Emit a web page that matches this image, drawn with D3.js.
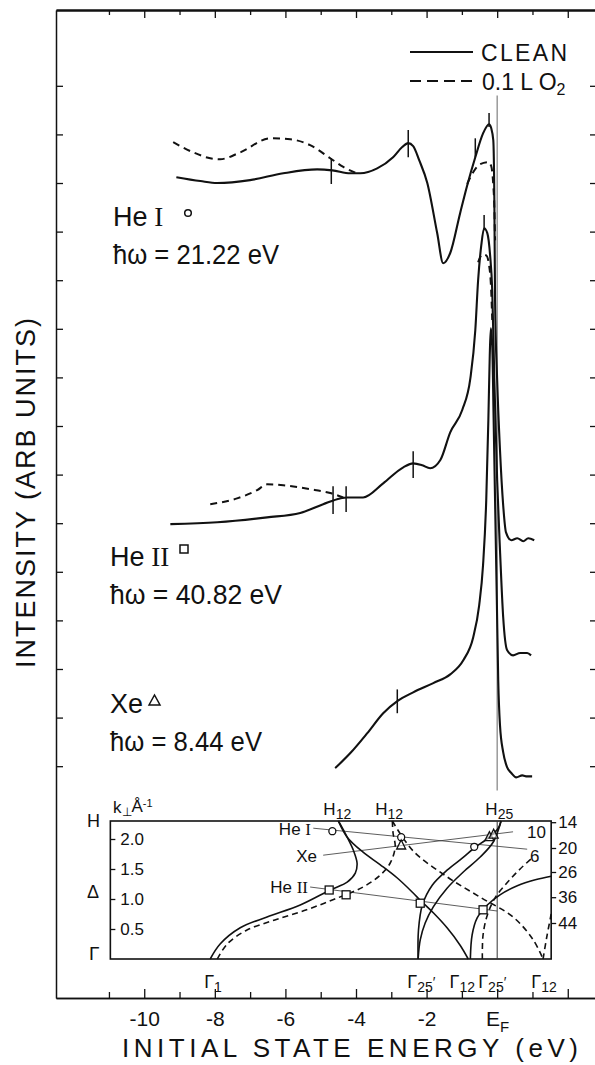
<!DOCTYPE html>
<html><head><meta charset="utf-8">
<script src="https://cdn.jsdelivr.net/npm/d3@7"></script>
<style>
body{margin:0;background:#fff}
svg{display:block}
text{font-family:"Liberation Sans",Arial,sans-serif;fill:#111}
</style></head>
<body><svg id="c" width="595" height="1065"></svg>
<script>
// ---------- DATA (energy E in eV, intensity in arb. units) ----------
const heI_clean = [[-9.09,12.12],[-8.41,12.04],[-7.93,12.00],[-7.00,12.06],[-6.06,12.20],[-5.10,12.28],[-4.67,12.26],[-4.16,12.20],[-3.88,12.20],[-3.40,12.30],[-2.95,12.53],[-2.69,12.74],[-2.52,12.82],[-2.38,12.76],[-2.21,12.47],[-1.98,12.00],[-1.70,10.97],[-1.53,10.35],[-1.33,10.56],[-1.05,11.38],[-0.85,11.95],[-0.62,12.53],[-0.40,13.02],[-0.23,13.21],[-0.17,13.13],[-0.11,12.88],[-0.08,11.65],[-0.06,9.59],[0.00,7.94],[0.08,6.50],[0.17,5.37],[0.25,4.81],[0.40,4.65],[0.57,4.69],[0.74,4.63],[0.88,4.69],[1.05,4.65]];
const heI_o2_low = [[-9.18,12.84],[-8.61,12.63],[-8.13,12.51],[-7.85,12.49],[-7.28,12.63],[-6.43,12.92],[-5.86,12.90],[-5.30,12.78],[-4.73,12.51],[-4.36,12.33],[-3.97,12.20]];
const heI_o2_peak = [[-0.85,11.98],[-0.68,12.22],[-0.48,12.39],[-0.25,12.43],[-0.17,12.35],[-0.11,11.95],[-0.08,11.50],[-0.06,10.82]];
const heII_clean = [[-9.26,4.98],[-7.93,5.02],[-6.52,5.12],[-5.58,5.21],[-4.93,5.39],[-4.45,5.51],[-4.25,5.53],[-3.80,5.53],[-3.23,5.82],[-2.66,6.15],[-2.38,6.23],[-2.12,6.19],[-1.90,6.13],[-1.61,6.30],[-1.33,6.87],[-0.99,7.33],[-0.76,7.98],[-0.62,8.97],[-0.54,10.00],[-0.45,10.72],[-0.37,11.07],[-0.28,10.97],[-0.20,10.51],[-0.14,9.79],[-0.08,7.94],[0.00,5.88],[0.08,4.44],[0.17,3.07],[0.28,2.39],[0.45,2.28],[0.65,2.33],[0.85,2.33],[0.96,2.28]];
const heII_o2_low = [[-8.13,5.39],[-7.37,5.51],[-6.80,5.68],[-6.52,5.80],[-6.06,5.78],[-5.30,5.70],[-4.73,5.62],[-4.36,5.53]];
const heII_o2_peak = [[-0.54,10.37],[-0.42,10.53],[-0.31,10.51],[-0.23,10.31],[-0.17,9.79],[-0.14,9.18]];
const xe_clean = [[-4.59,-0.04],[-4.16,0.27],[-3.68,0.68],[-3.23,1.09],[-2.83,1.34],[-2.38,1.52],[-1.81,1.71],[-1.33,1.89],[-0.96,2.18],[-0.68,2.65],[-0.51,3.31],[-0.40,4.14],[-0.31,5.47],[-0.25,7.12],[-0.21,8.46],[-0.18,9.01],[-0.14,8.66],[-0.10,7.12],[-0.06,5.47],[-0.01,3.42],[0.03,1.77],[0.08,0.84],[0.17,0.29],[0.28,-0.02],[0.40,-0.14],[0.54,-0.23],[0.71,-0.19],[0.85,-0.21],[0.99,-0.21]];
// short vertical markers: [E, I low, I high]
const markTicks = [[-4.70,11.98,12.51],[-2.52,12.53,13.09],[-0.62,12.53,12.92],[-0.23,13.15,13.44],
  [-4.65,5.19,5.76],[-4.28,5.23,5.76],[-2.38,5.93,6.48],[-0.37,11.03,11.34],[-2.83,1.09,1.58]];
const efLine = [-0.5, 13.8];
// axis ticks
const energyMajor = [-10,-8,-6,-4,-2,0,2];
const energyMinor = [-11,-9,-7,-5,-3,-1,1];
const energyLabels = {"-10":"-10","-8":"-8","-6":"-6","-4":"-4","-2":"-2","0":"E"};
const intensityTicks = [0,1,2,3,4,5,6,7,8,9,10,11,12,13,14];

// ---------- inset: band structure E(k) ----------
const insetE = [-10.96, 1.53];
const kTicks = [0.5,1.0,1.5,2.0];
const hvK = [2.28,1.85,1.45,1.03,0.60];
const hvLabels = ["14","20","26","36","44"];
const bandsSolid = [
 [[-8.13,0],[-7.85,0.25],[-7.28,0.52],[-6.52,0.70],[-5.58,0.90],[-4.73,1.15],[-4.25,1.28],[-4.02,1.43],[-3.97,1.60],[-4.08,1.82],[-4.25,2.03],[-4.45,2.25],[-4.50,2.30]],
 [[-4.50,2.30],[-4.25,2.03],[-3.80,1.78],[-3.31,1.57],[-2.83,1.35],[-2.38,1.10],[-2.18,0.98],[-1.81,0.77],[-1.42,0.52],[-1.05,0.23],[-0.82,0]],
 [[-2.24,0],[-2.18,0.32],[-2.04,0.60],[-1.81,0.87],[-1.42,1.18],[-0.96,1.45],[-0.48,1.70],[-0.11,1.95],[0.11,2.30]],
 [[-2.24,0],[-2.23,0.48],[-2.12,0.90],[-1.84,1.23],[-1.42,1.48],[-0.99,1.68],[-0.65,1.85],[-0.25,2.02],[0.03,2.18],[0.11,2.30]],
 [[-0.76,0],[-0.71,0.40],[-0.57,0.68],[-0.28,0.90],[0.08,1.07],[0.57,1.22],[1.08,1.32],[1.53,1.38]]
];
const bandsDashed = [
 [[-7.93,0],[-7.65,0.25],[-7.10,0.48],[-6.30,0.65],[-5.40,0.82],[-4.60,1.00],[-3.80,1.20],[-3.31,1.40],[-3.03,1.60],[-2.89,1.87],[-2.95,2.10],[-2.97,2.30]],
 [[-2.97,2.30],[-2.38,1.80],[-1.42,1.37],[-0.48,1.03],[0.45,0.70],[1.02,0.32],[1.30,0]],
 [[-0.42,0],[-0.40,0.40],[-0.28,0.73],[-0.06,1.02],[0.28,1.27],[0.65,1.50],[1.02,1.70]],
 [[1.30,0],[1.40,0.35],[1.53,0.75]]
];
const heI_pts = [[-4.67,2.13],[-2.72,2.03],[-0.65,1.87]];
const xe_pts = [[-2.72,1.90],[-0.22,2.04],[-0.10,2.08]];
const heII_pts = [[-4.76,1.15],[-4.28,1.07],[-2.18,0.93],[-0.40,0.82]];
const heI_ray = [[-5.21,2.18],[0.85,1.83]];
const xe_ray = [[-4.93,1.73],[0.45,2.12]];
const heII_ray = [[-5.30,1.20],[0.00,0.80]];
const topLabels = [["H","12",-4.53],["H","12",-3.06],["H","25",0.06]];
const bottomLabels = [["Γ","1",-8.05,""],["Γ","25",-2.15,"′"],["Γ","12",-0.99,""],["Γ","25",-0.14,"′"],["Γ","12",1.33,""]];

// ---------- SCALES ----------
const svg = d3.select("#c");
const x = d3.scaleLinear().domain([-12.5, 2.8]).range([56, 596]);
const y = d3.scaleLinear().domain([-4.77, 15.56]).range([998, 10]);
const kS = d3.scaleLinear().domain([0, 2.3]).range([959, 821]);
const serif = '"Liberation Serif","DejaVu Serif",serif';

function styleAxis(g, w){
  g.selectAll(".domain").attr("stroke","#111").attr("stroke-width",w||1.5);
  g.selectAll(".tick line").attr("stroke","#111").attr("stroke-width",1.3);
  g.attr("font-family",null).attr("font-size",null);
}

// bottom axis
const gBmin = svg.append("g").attr("transform","translate(0,998)")
  .call(d3.axisBottom(x).tickValues(energyMinor).tickSize(-6).tickSizeOuter(0).tickFormat(""));
styleAxis(gBmin);
const gB = svg.append("g").attr("transform","translate(0,998)")
  .call(d3.axisBottom(x).tickValues(energyMajor).tickSize(-9).tickSizeOuter(0).tickPadding(13)
     .tickFormat(d => energyLabels[String(d)] || ""));
styleAxis(gB);
gB.selectAll(".tick text").attr("font-size","21px").attr("fill","#111")
  .each(function(d){ if(d===0){ d3.select(this).append("tspan").attr("dy","0.4em").attr("font-size","15px").text("F"); }});
// top axis
const gTmin = svg.append("g").attr("transform","translate(0,10)")
  .call(d3.axisBottom(x).tickValues(energyMinor).tickSize(5).tickSizeOuter(0).tickFormat(""));
styleAxis(gTmin,2);
const gT = svg.append("g").attr("transform","translate(0,10)")
  .call(d3.axisBottom(x).tickValues(energyMajor).tickSize(8).tickSizeOuter(0).tickFormat(""));
styleAxis(gT,2);
// left & right axes
const gL = svg.append("g").attr("transform","translate(56,0)")
  .call(d3.axisRight(y).tickValues(intensityTicks).tickSize(7).tickSizeOuter(0).tickFormat(""));
styleAxis(gL);
const gR = svg.append("g").attr("transform","translate(597,0)")
  .call(d3.axisLeft(y).tickValues(intensityTicks).tickSize(7).tickSizeOuter(0).tickFormat(""));
styleAxis(gR);

// axis titles
svg.append("text").attr("x",122).attr("y",1057).attr("font-size","26px")
  .attr("font-family",'"DejaVu Sans",sans-serif').attr("font-weight",300)
  .attr("textLength",456).attr("lengthAdjust","spacing").text("INITIAL STATE ENERGY (eV)");
svg.append("text").attr("transform","translate(35,668) rotate(-90)").attr("font-size","27px")
  .attr("textLength",350).attr("lengthAdjust","spacing").text("INTENSITY (ARB UNITS)");

// E_F reference line
svg.append("line").attr("x1",x(0)).attr("x2",x(0)).attr("y1",y(efLine[0])).attr("y2",y(efLine[1]))
  .attr("stroke","#8a8a8a").attr("stroke-width",1.3);

// spectra
const line = d3.line().x(d=>x(d[0])).y(d=>y(d[1])).curve(d3.curveMonotoneX);
[heI_clean, heII_clean, xe_clean].forEach(s =>
  svg.append("path").attr("d",line(s)).attr("fill","none").attr("stroke","#111").attr("stroke-width",2.1));
[heI_o2_low, heI_o2_peak, heII_o2_low, heII_o2_peak].forEach(s =>
  svg.append("path").attr("d",line(s)).attr("fill","none").attr("stroke","#111").attr("stroke-width",2)
    .attr("stroke-dasharray","7,5"));
svg.selectAll("line.mk").data(markTicks).enter().append("line").attr("class","mk")
  .attr("x1",d=>x(d[0])).attr("x2",d=>x(d[0])).attr("y1",d=>y(d[1])).attr("y2",d=>y(d[2]))
  .attr("stroke","#111").attr("stroke-width",1.5);

// legend
svg.append("line").attr("x1",410).attr("x2",473).attr("y1",52).attr("y2",52).attr("stroke","#111").attr("stroke-width",2);
svg.append("text").attr("x",481).attr("y",61).attr("font-size","23px").attr("textLength",86).attr("lengthAdjust","spacing").text("CLEAN");
svg.append("line").attr("x1",410).attr("x2",472).attr("y1",81).attr("y2",81).attr("stroke","#111").attr("stroke-width",2).attr("stroke-dasharray","11,6");
const lt = svg.append("text").attr("x",482).attr("y",90).attr("font-size","23px");
lt.append("tspan").text("0.1 L O");
lt.append("tspan").attr("dy","0.3em").attr("font-size","16px").text("2");

// spectrum labels
function specLabel(x0, yb, name, roman, w2, line2){
  const t = svg.append("text").attr("x",x0).attr("y",yb).attr("font-size","27px");
  t.append("tspan").text(name);
  if(roman) t.append("tspan").attr("font-family",serif).text(" "+roman);
  svg.append("text").attr("x",x0).attr("y",yb+38).attr("font-size","28px")
    .attr("textLength",w2).attr("lengthAdjust","spacingAndGlyphs").text(line2);
}
specLabel(113,226,"He","I",166,"ħω = 21.22 eV");
svg.append("circle").attr("cx",188).attr("cy",213).attr("r",3.3).attr("fill","none").attr("stroke","#111").attr("stroke-width",1.5);
specLabel(110,566,"He","II",172,"ħω = 40.82 eV");
svg.append("rect").attr("x",180).attr("y",545).attr("width",8).attr("height",8).attr("fill","none").attr("stroke","#111").attr("stroke-width",1.5);
specLabel(110,713,"Xe","",152,"ħω = 8.44 eV");
svg.append("path").attr("d","M149,705 L154.5,695 L160,705 Z").attr("fill","none").attr("stroke","#111").attr("stroke-width",1.5);

// ---------- INSET ----------
const gi = svg.append("g");
const bx0 = x(insetE[0]), bx1 = x(insetE[1]);
gi.append("rect").attr("x",bx0).attr("y",kS(2.3)).attr("width",bx1-bx0).attr("height",kS(0)-kS(2.3))
  .attr("fill","#fff").attr("stroke","#111").attr("stroke-width",1.6);
const gIL = gi.append("g").attr("transform",`translate(${bx0},0)`)
  .call(d3.axisRight(kS).tickValues(kTicks).tickSize(5).tickSizeOuter(0).tickPadding(5).tickFormat(d3.format(".1f")));
styleAxis(gIL);
gIL.select(".domain").remove();
gIL.selectAll(".tick text").attr("font-size","17px").attr("fill","#111");
const gIR = gi.append("g").attr("transform",`translate(${bx1},0)`)
  .call(d3.axisRight(kS).tickValues(hvK).tickSize(5).tickSizeOuter(0).tickPadding(2).tickFormat((d,i)=>hvLabels[i]));
styleAxis(gIR);
gIR.select(".domain").remove();
gIR.selectAll(".tick text").attr("font-size","17px").attr("fill","#111");
gi.append("line").attr("x1",x(0)).attr("x2",x(0)).attr("y1",kS(0)).attr("y2",kS(2.3)).attr("stroke","#333").attr("stroke-width",1);

const bl = d3.line().x(d=>x(d[0])).y(d=>kS(d[1])).curve(d3.curveCatmullRom.alpha(0.5));
const sl = d3.line().x(d=>x(d[0])).y(d=>kS(d[1]));
[heI_ray, xe_ray, heII_ray].forEach(r =>
  gi.append("path").attr("d",sl(r)).attr("fill","none").attr("stroke","#333").attr("stroke-width",0.8));
bandsSolid.forEach(b => gi.append("path").attr("d",bl(b)).attr("fill","none").attr("stroke","#111").attr("stroke-width",1.6));
bandsDashed.forEach(b => gi.append("path").attr("d",bl(b)).attr("fill","none").attr("stroke","#111").attr("stroke-width",1.6).attr("stroke-dasharray","6,4"));
gi.selectAll("circle.p").data(heI_pts).enter().append("circle").attr("class","p")
  .attr("cx",d=>x(d[0])).attr("cy",d=>kS(d[1])).attr("r",3.5).attr("fill","#fff").attr("stroke","#111").attr("stroke-width",1.3);
gi.selectAll("path.tri").data(xe_pts).enter().append("path").attr("class","tri")
  .attr("d",d=>{const cx=x(d[0]),cy=kS(d[1]);return `M${cx-4.5},${cy+4} L${cx},${cy-5} L${cx+4.5},${cy+4} Z`;})
  .attr("fill","#fff").attr("fill-opacity",0.6).attr("stroke","#111").attr("stroke-width",1.3);
gi.selectAll("rect.sq").data(heII_pts).enter().append("rect").attr("class","sq")
  .attr("x",d=>x(d[0])-4).attr("y",d=>kS(d[1])-4).attr("width",8).attr("height",8)
  .attr("fill","#fff").attr("stroke","#111").attr("stroke-width",1.3);

// inset labels
function lbl(xx,yy,txt,anchor,fs,fam){
  return gi.append("text").attr("x",xx).attr("y",yy).attr("font-size",(fs||17)+"px")
    .attr("text-anchor",anchor||"start").attr("font-family",fam||null).text(txt);
}
const t1 = lbl(311,835,"He ","end"); t1.append("tspan").attr("font-family",serif).text("I");
lbl(317,862,"Xe","end");
const t3 = lbl(308,893,"He ","end"); t3.append("tspan").attr("font-family",serif).text("II");
lbl(527,838,"10"); lbl(530,862,"6");
lbl(87,827,"H","start",18);
lbl(87,898,"Δ","start",18);
lbl(89,960,"Γ","start",19,serif);
const kl = lbl(113,813,"k");
kl.append("tspan").attr("dy","0.25em").attr("font-size","12px").text("⊥");
kl.append("tspan").attr("dy","-0.25em").text("Å");
kl.append("tspan").attr("dy","-0.45em").attr("font-size","11px").text("-1");
topLabels.forEach(([a,s,e]) => {
  const t = lbl(x(e),815,a,"middle");
  t.append("tspan").attr("dy","0.25em").attr("font-size","14px").text(s);
});
bottomLabels.forEach(([a,s,e,p]) => {
  const t = lbl(x(e),988,a,"middle",18,serif);
  t.append("tspan").attr("dy","0.25em").attr("font-size","14px").attr("font-family",'"Liberation Sans",Arial,sans-serif').text(s);
  if(p) t.append("tspan").attr("dy","-0.35em").attr("font-size","14px").text(p);
});
</script></body></html>
